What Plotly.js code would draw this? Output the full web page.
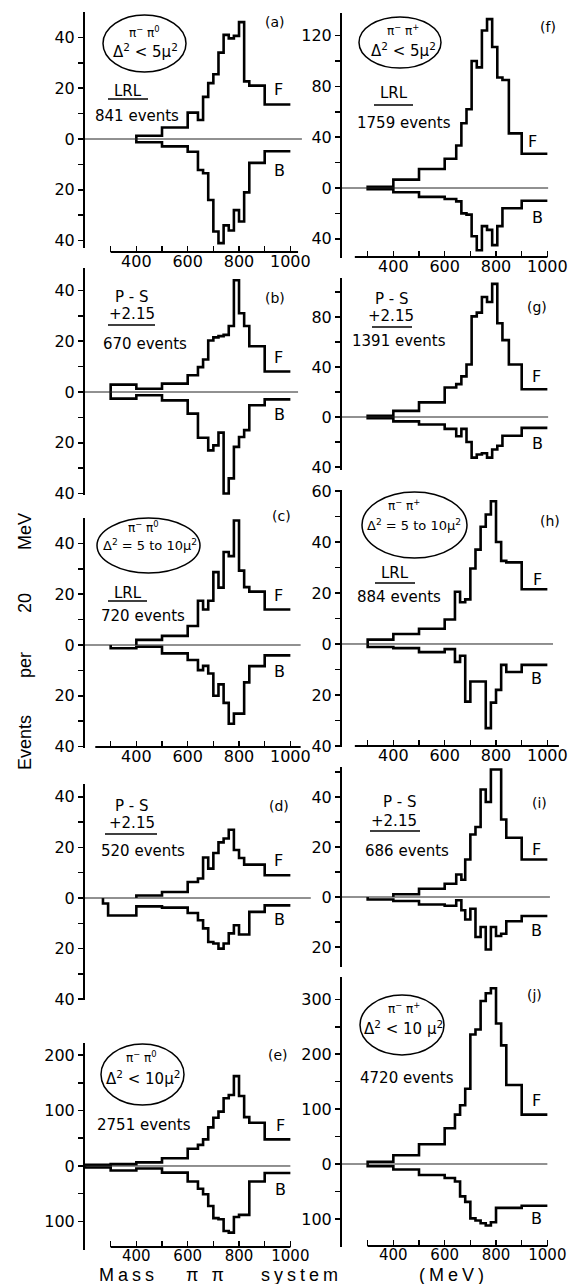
<!DOCTYPE html>
<html><head><meta charset="utf-8">
<script src="https://cdn.plot.ly/plotly-3.0.1.min.js"></script>
<style>html,body{margin:0;padding:0;background:#fff;}#chart{width:571px;height:1284px;}</style>
</head><body><div id="chart"></div>
<script>
// ---------- DATA (bin edges in MeV, events per bin) ----------
const edges_a = [400,500,600,640,660,680,700,720,740,760,780,800,820,840,900,1000];
const F_a = [1.3,4.5,10.4,7.5,16.6,22,25.5,34,41,39.6,40.6,46,22.7,21,13.6];
const B_a = [1.3,2.9,5,12.2,13.5,24,36.4,41,34,36,28,32.5,21,9.4,4.8];

const edges_f = [300,400,500,600,645,665,685,705,725,745,765,785,805,825,850,900,1000];
const F_f = [1,6.6,15,23,33.5,51,62,100,95,124,133,111,87,85,43,27];
const B_f = [1,3.4,7,8.7,10.5,20,21,38,49,30,33,45,30,16,16,10];

const edges_b = [300,400,500,600,640,660,680,700,720,740,760,780,800,820,840,900,1000];
const F_b = [2.9,1.3,3.3,6.6,9.8,12.8,20.3,21.5,22,22.5,26,44,31,26,18,8.1];
const B_b = [2.6,1.3,3.3,8.5,18,18,23,21,16,40,34,21.6,17.7,15,5.2,2.9];

const edges_g = [300,400,500,600,645,665,685,705,725,745,765,785,805,825,850,900,1000];
const F_g = [1,4.9,11.7,23.6,26.3,32.5,42,80.5,83.5,96,92,106.5,75,61.5,42,22.2];
const B_g = [1,3.5,6,9.5,15.4,9.5,20,32.5,30,29,32.5,26,23,15,15,8.7];

const edges_c = [300,400,500,600,640,660,680,700,720,740,760,780,800,820,840,900,1000];
const F_c = [null,2,3.6,7.5,17.4,14,17.4,28.7,22.6,36.6,35,49,29.3,22.8,21,14];
const B_c = [1.3,0.7,3.3,5.9,9.9,8.2,11.2,20,15.5,22.8,31,27,27,14.7,8.3,4.1];

const edges_h = [300,400,500,600,640,660,680,700,720,740,760,780,800,820,840,900,1000];
const F_h = [1.7,3.9,6,9.6,20.5,16.4,17.5,29.6,37,46,50.8,56,40,32.6,32,21.5];
const B_h = [1.2,1.6,3.2,2,7,4.6,22.6,14.7,14.7,14.7,33,23,18,8.2,11,8.2];

const edges_d = [270,290,400,500,600,640,660,680,700,720,740,760,780,800,820,840,900,1000];
const F_d = [null,null,1,2.4,6.3,7.7,16,11.6,17.8,22,23.5,27,19,15.8,13.2,13.2,9];
const B_d = [2.2,6.9,3.3,3.8,5.9,8.8,12,17.4,18,20,18,14,10.8,14.4,14.4,5.5,2.9];

const edges_i = [300,400,500,600,645,665,680,700,720,740,760,780,800,820,840,900,1000];
const F_i = [null,1.1,3.3,5.3,9,6.9,15,25,28,43,38,51,51,31,23.7,15];
const B_i = [1,1.6,3,3.5,1.3,5.3,9,4.7,16,12,21,12,15.6,14.7,9.7,7.6];

const edges_e = [200,300,400,500,600,640,660,680,700,720,740,760,780,800,820,840,900,1000];
const F_e = [2,3.3,6.6,14,31,38,48,69.5,87,98,122,128,162,126,88,78,48];
const B_e = [2.6,8,4.6,12,28,41,51,72,94,96,117,120,92,88,88,28,12.6];

const edges_j = [300,400,500,600,640,660,680,700,720,740,760,780,800,820,840,900,1000];
const F_j = [4,16,36,65,90,107,137,236,245,297,311,320,256,216,144,90];
const B_j = [4,10,20,25.5,32,59,69,99,103,108,112,106,80,80,80,76];

// tick labels
const xTickVals = [300,400,500,600,700,800,900,1000];
const xTickText = ['','400','','600','','800','','1000'];
const yTicks40 = [-40,-30,-20,-10,0,10,20,30,40];
const yText40 = ['40','','20','','0','','20','','40'];
const yTicks_f = [-40,-20,0,20,40,60,80,100,120];
const yText_f = ['40','','0','','40','','80','','120'];
const yTicks_g = [-40,-20,0,20,40,60,80,100];
const yText_g = ['40','','0','','40','','80',''];
const yTicks_h = [-40,-30,-20,-10,0,10,20,30,40,50,60];
const yText_h = ['40','','20','','0','','20','','40','','60'];
const yTicks_i = [-20,-10,0,10,20,30,40,50];
const yText_i = ['20','','0','','20','','40',''];
const yTicks_e = [-100,-50,0,50,100,150,200];
const yText_e = ['100','','0','','100','','200'];
const yTicks_j = [-100,-50,0,50,100,150,200,250,300];
const yText_j = ['100','','0','','100','','200','','300'];

// ---------- LAYOUT HELPERS ----------
const W = 571, H = 1284;
const FONT = 'DejaVu Sans, sans-serif';
const px = p => p / W;
const py = p => 1 - p / H;
const PXPERMEV = 0.2567;
const XR = [200, 1080];
const colLeft = [85, 342];

const panels = [
  {edges:edges_a,F:F_a,B:B_a,col:0,y0:139,s:2.54,top:50,bot:-43,tv:yTicks40,tt:yText40,xax:252,xfs:16,xline:[300,1030],zero:[200,1045]},
  {edges:edges_f,F:F_f,B:B_f,col:1,y0:188,s:1.27,top:138,bot:-55,tv:yTicks_f,tt:yText_f,xax:257,xfs:16,xline:[250,1000],zero:[200,1003]},
  {edges:edges_b,F:F_b,B:B_b,col:0,y0:392,s:2.54,top:49,bot:-40.5,tv:yTicks40,tt:yText40,xax:null,zero:[200,1030]},
  {edges:edges_g,F:F_g,B:B_g,col:1,y0:417,s:1.25,top:111,bot:-42,tv:yTicks_g,tt:yText_g,xax:null,zero:[200,1003]},
  {edges:edges_c,F:F_c,B:B_c,col:0,y0:645,s:2.54,top:50,bot:-40.5,tv:yTicks40,tt:yText40,xax:747,xfs:16,xline:[240,1040],zero:[200,1040]},
  {edges:edges_h,F:F_h,B:B_h,col:1,y0:644,s:2.55,top:60.5,bot:-40.5,tv:yTicks_h,tt:yText_h,xax:746,xfs:16,xline:[250,1045],zero:[200,1022]},
  {edges:edges_d,F:F_d,B:B_d,col:0,y0:898,s:2.53,top:45,bot:-40.5,tv:yTicks40,tt:yText40,xax:null,zero:[200,1080]},
  {edges:edges_i,F:F_i,B:B_i,col:1,y0:897,s:2.5,top:52,bot:-28,tv:yTicks_i,tt:yText_i,xax:null,zero:[200,1010]},
  {edges:edges_e,F:F_e,B:B_e,col:0,y0:1166,s:0.555,top:221,bot:-151,tv:yTicks_e,tt:yText_e,xax:1247,xfs:15,xline:[300,1000],zero:[200,1000]},
  {edges:edges_j,F:F_j,B:B_j,col:1,y0:1164,s:0.549,top:340,bot:-151,tv:yTicks_j,tt:yText_j,xax:1246,xfs:15,xline:[300,1000],zero:[200,1000]}
];

function stepTrace(edges, vals, sign, xa, ya) {
  let k = 0;
  while (k < vals.length && (vals[k] === null || vals[k] === undefined)) k++;
  const xs = [edges[k]], ys = [0];
  for (let i = k; i < vals.length; i++) { xs.push(edges[i]); ys.push(sign * vals[i]); }
  xs.push(edges[vals.length]); ys.push(sign * vals[vals.length - 1]);
  return {type:'scatter', mode:'lines', x:xs, y:ys, xaxis:xa, yaxis:ya,
          line:{shape:'hv', color:'#000', width:2.6}, hoverinfo:'skip'};
}

const traces = [];
const layout = {
  width:W, height:H, autosize:false, showlegend:false,
  margin:{l:0,r:0,t:0,b:0}, paper_bgcolor:'#fff', plot_bgcolor:'rgba(0,0,0,0)',
  font:{family:FONT, color:'#000'}, shapes:[], annotations:[]
};

panels.forEach((p, idx) => {
  const n = idx + 1;
  const xk = n === 1 ? 'xaxis' : 'xaxis' + n;
  const yk = n === 1 ? 'yaxis' : 'yaxis' + n;
  const xa = n === 1 ? 'x' : 'x' + n;
  const ya = n === 1 ? 'y' : 'y' + n;
  const left = colLeft[p.col];
  const right = left + (XR[1] - XR[0]) * PXPERMEV;
  const topPx = p.y0 - p.top * p.s, botPx = p.y0 - p.bot * p.s;
  const xaxis = {domain:[px(left), px(right)], range:XR, showgrid:false, zeroline:false, showline:false, fixedrange:true};
  if (p.xax !== null) {
    Object.assign(xaxis, {anchor:'free', position:py(p.xax), tickvals:xTickVals, ticktext:xTickText,
      ticks:'inside', ticklen:6, tickwidth:1.5, tickcolor:'#000', ticklabelstandoff:-2,
      tickfont:{family:FONT, size:p.xfs, color:'#000'}});
    layout.shapes.push({type:'line', xref:xa, yref:'paper', x0:p.xline[0], x1:p.xline[1], y0:py(p.xax), y1:py(p.xax), line:{color:'#000', width:1.8}});
  } else {
    Object.assign(xaxis, {anchor:ya, visible:false});
  }
  layout[xk] = xaxis;
  layout[yk] = {domain:[py(botPx), py(topPx)], range:[p.bot, p.top], anchor:xa,
    showline:true, linewidth:2, linecolor:'#000', ticks:'outside', ticklen:5, tickwidth:1.5, tickcolor:'#000',
    tickvals:p.tv, ticktext:p.tt, showgrid:false, zeroline:false, fixedrange:true,
    tickfont:{family:FONT, size:16, color:'#000'}};
  layout.shapes.push({type:'line', xref:xa, yref:ya, x0:p.zero[0], x1:p.zero[1], y0:0, y1:0, line:{color:'#222', width:1}});
  traces.push(stepTrace(p.edges, p.F, 1, xa, ya));
  traces.push(stepTrace(p.edges, p.B, -1, xa, ya));
});

function T(text, x, y, size, extra) {
  layout.annotations.push(Object.assign({text:text, xref:'paper', yref:'paper', x:px(x), y:py(y),
    xanchor:'center', yanchor:'middle', showarrow:false, font:{family:FONT, size:size, color:'#000'}}, extra || {}));
}
function ell(l, r, t, b) {
  layout.shapes.push({type:'circle', xref:'paper', yref:'paper', x0:px(l), x1:px(r), y0:py(b), y1:py(t), line:{color:'#000', width:1.5}});
}
function ul(x0, x1, y) {
  layout.shapes.push({type:'line', xref:'paper', yref:'paper', x0:px(x0), x1:px(x1), y0:py(y), y1:py(y), line:{color:'#000', width:1.5}});
}
const PIM0 = 'π<sup>−</sup> π<sup>0</sup>';
const PIMP = 'π<sup>−</sup> π<sup>+</sup>';

// (a)
T('(a)',275,22,14); T('F',278,90,16); T('B',279,171,16);
T('LRL',128,91,15); ul(108,148,99); T('841 events',137,116,15);
ell(103,186,15,72); T(PIM0,144,32,12); T('Δ<sup>2</sup> &lt; 5μ<sup>2</sup>',145,51,15);
// (f)
T('(f)',548,27,14); T('F',532,142,16); T('B',537,218,16);
T('LRL',394,93,15); ul(374,413,105); T('1759 events',404,123,15);
ell(359,441,17,68); T(PIMP,403,30,12); T('Δ<sup>2</sup> &lt; 5μ<sup>2</sup>',403,50,15);
// (b)
T('(b)',275,298,14); T('F',278,358,16); T('B',279,414,16);
T('P - S',132,297,15); T('+2.15',132,314,15); ul(108,155,325); T('670 events',145,344,15);
// (g)
T('(g)',537,307,14); T('F',536,376,16); T('B',537,444,16);
T('P - S',392,299,15); T('+2.15',391,316,15); ul(372,412,327); T('1391 events',399,341,15);
// (c)
T('(c)',281,516,14); T('F',278,596,16); T('B',279,671,16);
T('LRL',128,593,15); ul(108,147,601); T('720 events',143,616,15);
ell(97,200,518,573); T(PIM0,143,527,12); T('Δ<sup>2</sup> = 5 to 10μ<sup>2</sup>',150,545,13);
// (h)
T('(h)',550,521,14); T('F',537,579,16); T('B',536,678,16);
T('LRL',395,573,15); ul(375,415,583); T('884 events',399,597,15);
ell(362,467,492,558); T(PIMP,404,505,12); T('Δ<sup>2</sup> = 5 to 10μ<sup>2</sup>',414,525,13);
// (d)
T('(d)',279,806,14); T('F',278,860,16); T('B',279,919,16);
T('P - S',132,806,15); T('+2.15',132,823,15); ul(105,157,834); T('520 events',143,851,15);
// (i)
T('(i)',539,803,14); T('F',536,849,16); T('B',536,930,16);
T('P - S',400,802,15); T('+2.15',394,821,15); ul(370,420,831); T('686 events',407,851,15);
// (e)
T('(e)',278,1055,14); T('F',280,1125,16); T('B',280,1189,16);
T('2751 events',144,1125,15);
ell(101,184,1044,1105); T(PIM0,141,1057,12); T('Δ<sup>2</sup> &lt; 10μ<sup>2</sup>',143,1078,15);
// (j)
T('(j)',534,995,14); T('F',536,1100,16); T('B',536,1218,16);
T('4720 events',407,1078,15);
ell(360,444,995,1055); T(PIMP,404,1008,12); T('Δ<sup>2</sup> &lt; 10 μ<sup>2</sup>',403,1028,15);

// axis titles
const TF = 'Liberation Sans, Arial, sans-serif';
[['Events',743],['per',665],['20',603],['MeV',532]].forEach(w => {
  T(w[0], 25, w[1], 18, {textangle:-90, font:{family:TF, size:18, color:'#000'}});
});
[['Mass',128],['π π',207],['system',301],['(MeV)',453]].forEach(w => {
  T('<span style="letter-spacing:4px">' + w[0] + '</span>', w[1], 1275, 18, {font:{family:TF, size:18, color:'#000'}});
});

Plotly.newPlot('chart', traces, layout, {staticPlot:true, displayModeBar:false});
</script></body></html>
